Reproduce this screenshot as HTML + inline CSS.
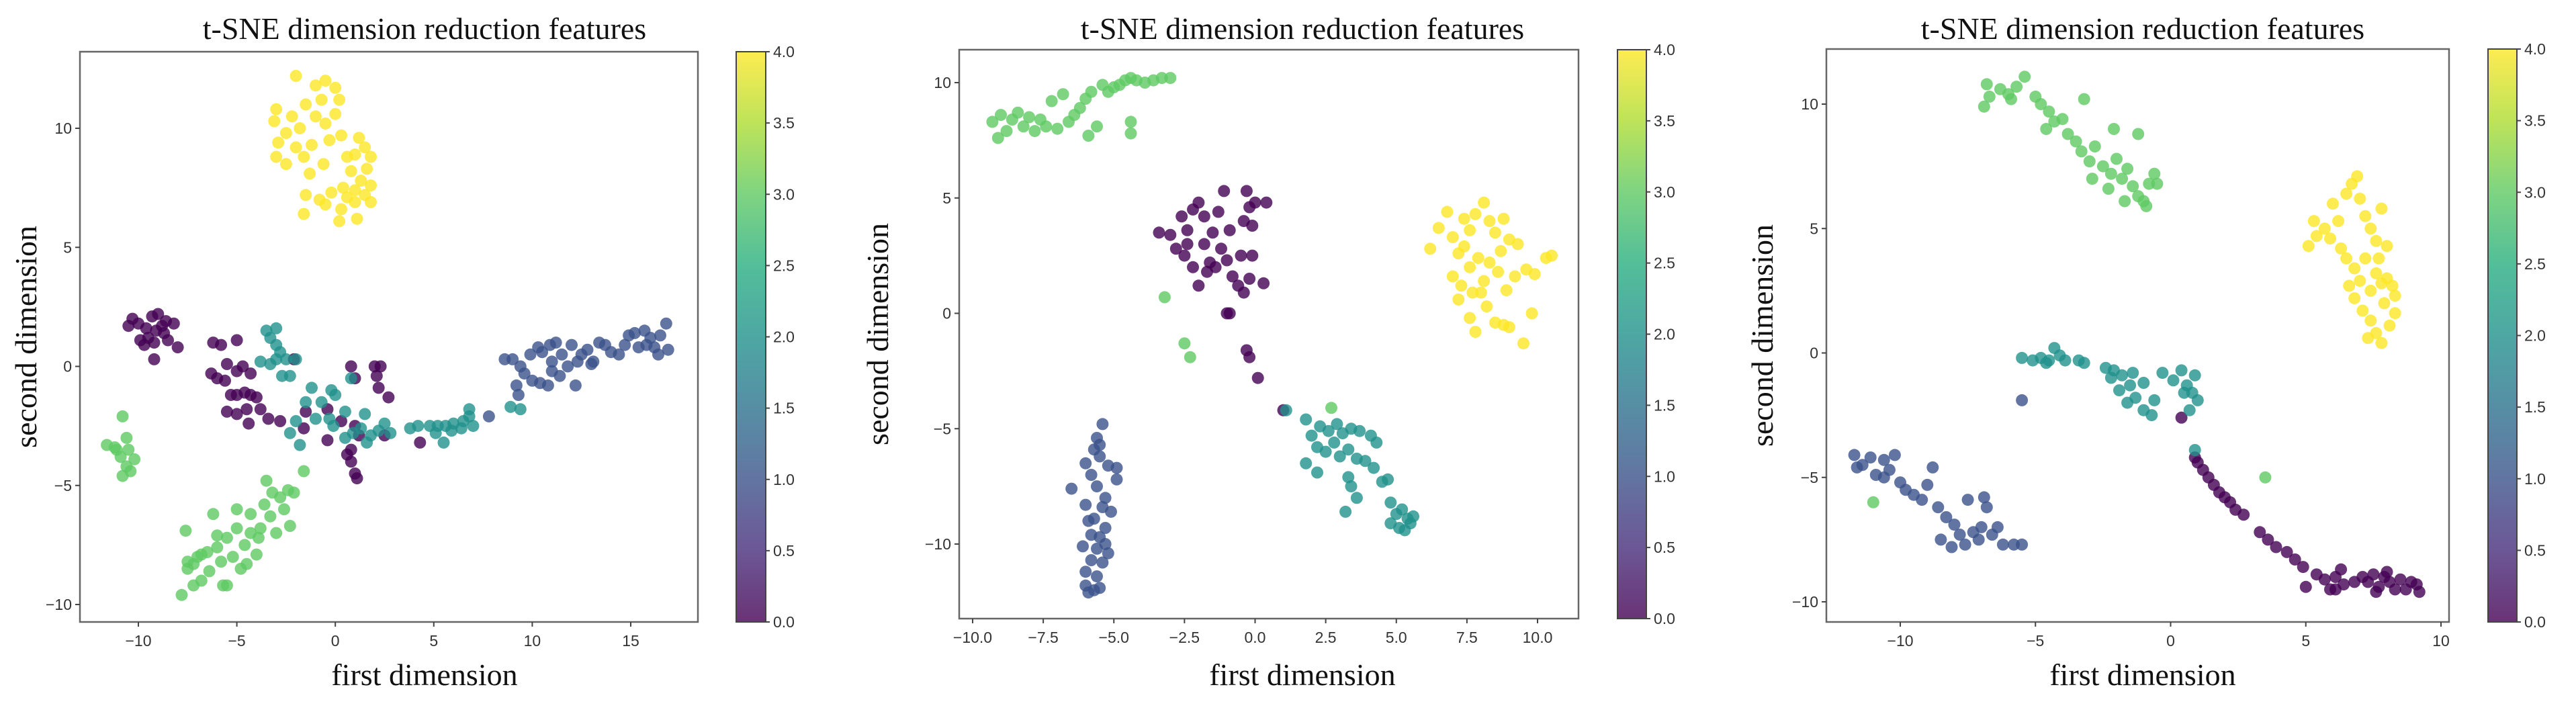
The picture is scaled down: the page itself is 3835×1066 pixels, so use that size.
<!DOCTYPE html>
<html><head><meta charset="utf-8"><style>
html,body{margin:0;padding:0;background:#fff;}
svg{display:block;}
.tick{font-family:"Liberation Sans",sans-serif;font-size:23px;fill:#333;}
.lbl{font-family:"Liberation Serif",serif;font-size:46px;fill:#111;}
</style></head><body>
<svg id="fig" width="3835" height="1066" viewBox="0 0 3835 1066" xmlns="http://www.w3.org/2000/svg">
<defs>
<linearGradient id="viridis" x1="0" y1="1" x2="0" y2="0">
<stop offset="0" stop-color="#440154"/><stop offset="0.125" stop-color="#472d7b"/><stop offset="0.25" stop-color="#3b528b"/><stop offset="0.375" stop-color="#2c728e"/><stop offset="0.5" stop-color="#21918c"/><stop offset="0.625" stop-color="#28ae80"/><stop offset="0.75" stop-color="#5ec962"/><stop offset="0.875" stop-color="#addc30"/><stop offset="1" stop-color="#fde725"/>
</linearGradient>
</defs>
</svg>
<script>
// ---- Panel 1 data ----
const p1Class0 = [[-10.3,2],[-10,1.8],[-9.6,1.6],[-9.3,2.1],[-9,2.2],[-8.6,1.9],[-8.2,1.8],[-9.1,1.5],[-8.7,1.4],[-9.5,1.2],[-9.9,1.1],[-9.2,1.0],[-8.5,1.1],[-10.5,1.7],[-9.7,0.9],[-9.2,0.3],[-8,0.8],[-8.8,1.7],
[-6.2,1],[-5.8,0.9],[-5,1.1],[-6.3,-0.3],[-6,-0.5],[-5.5,0.1],[-5,-0.2],[-4.7,0],[-4.3,-0.3],[-5.6,-0.6],[-5.3,-1.2],[-5,-1.2],[-4.6,-1.1],[-4.3,-1.2],[-4,-1.3],[-5.5,-1.9],[-5,-2],[-4.5,-1.8],[-3.8,-1.8],[-4.4,-2.4],[-3.4,-2.2],[-2.8,-2.3],[-2.1,0.3],[-1.5,-1.9],[-1.6,-2.6],[-0.4,-1.8],[-0.4,-3.1],[0.8,0],[2,0],[2.3,0],[2.1,-0.4],[2.2,-0.9],[2.7,-1.3],[0.3,-2.3],[1.0,-2.5],[1.2,-2.9],[0.8,-3.5],[0.8,-4],[1,-4.5],[1.1,-4.7],[0.6,-3.7],[1,-0.5],[4.3,-3.2],[2.5,-2.9]];
const p1Class1 = [[8.6,0.3],[9,0.3],[9.4,0],[9.6,-0.3],[9.9,0.5],[10.3,0.8],[10.5,0.6],[10.4,-0.7],[10.8,-0.8],[11,0.2],[11.2,1.0],[11.5,0.5],[11.8,0],[12,0.9],[12.2,-0.8],[12.5,0.5],[12.8,0.7],[13.1,0.2],[13.4,1],[13.7,0.9],[14,0.6],[14.4,0.5],[14.9,1.3],[15.2,1.4],[15.4,0.8],[15.7,1.5],[16,1.2],[16.2,0.8],[16.5,1.3],[16.8,1.8],[16.9,0.7],[16.4,0.5],[15.8,0.9],[9.2,-0.8],[9.3,-1.2],[10,-0.6],[11,-0.2],[13,0.1],[12.3,0.2],[10.9,0.9],[11.4,-0.4],[14.7,0.9],[7.8,-2.1]];
const p1Class2 = [[-3.5,1.5],[-3,1.6],[-3.3,1.2],[-3,0.9],[-2.8,0.6],[-3.8,0.2],[-3.3,0.1],[-3,0.3],[-2.7,-0.4],[-2.3,-0.4],[-2.5,0.3],[-2,0.3],[-1.2,-0.9],[-0.7,-1.5],[-0.2,-1],[0,-1.2],[0.5,-1.9],[-0.3,-2.2],[-1,-2.2],[-2,-2.3],[-1.5,-1.5],[-2.3,-2.8],[-1.8,-3.3],[-0.1,-2.5],[0.5,-3],[0.9,-2.8],[1.3,-2.6],[1.6,-3.2],[1.8,-2.9],[2.2,-2.7],[2.8,-2.8],[0.8,-0.5],[1.5,-2],[2.5,-2.4],[3.8,-2.6],[4.2,-2.5],[4.8,-2.5],[5.2,-2.5],[5.6,-2.5],[6,-2.4],[6.5,-2.3],[6.8,-2.1],[7,-2.5],[6.8,-1.8],[6.4,-2.6],[5.1,-2.8],[5.5,-3.2],[5.9,-2.7],[8.9,-1.7],[9.4,-1.8]];
const p1Class3 = [[-11.6,-3.3],[-11.2,-3.4],[-10.8,-2.1],[-10.6,-3.0],[-10.5,-3.5],[-10.9,-3.8],[-10.6,-4.2],[-10.8,-4.6],[-10.4,-4.4],[-10.2,-3.9],[-11.1,-3.5],
[-7.8,-9.6],[-7.6,-6.9],[-7.5,-8.5],[-7.2,-9.2],[-7.0,-8.0],[-6.8,-9.0],[-6.5,-7.8],[-6.4,-8.6],[-6.2,-6.2],[-6,-7.6],[-5.8,-8.2],[-5.7,-9.2],[-5.5,-7.2],[-5.2,-8.0],[-5,-6.8],[-5,-6],[-4.8,-8.5],[-4.6,-7.5],[-4.3,-7],[-4,-7.9],[-3.8,-6.8],[-3.6,-5.8],[-3.5,-4.8],[-3.3,-6.3],[-3,-7],[-2.8,-5.5],[-2.6,-6],[-2.4,-5.2],[-2.1,-5.3],[-2.3,-6.7],[-1.6,-4.4],[-6.8,-7.9],[-7.2,-8.3],[-4.5,-8.3],[-5.5,-9.2],[-3.9,-7.2],[-4.3,-6.2],[-6,-7.1],[-7.5,-8.2],[-3.2,-5.3]];
const p1Class4 = [[-2,12.2],[-1,11.8],[-0.5,12],[0,11.7],[0.2,11.2],[-0.7,11.2],[-1.5,11],[-2.2,10.5],[-3,10.8],[-3.1,10.3],[-2.5,9.8],[-1.8,10],[-1,10.5],[-0.5,10.2],[0,10.6],[0.3,9.7],[-0.3,9.5],[-1.2,9.3],[-2,9.2],[-2.9,9.4],[-3,8.8],[-2.5,8.5],[-1.6,8.8],[-1.3,8.1],[-0.6,8.5],[1.2,9.6],[1.5,9.2],[1.8,8.8],[1,8.9],[0.6,8.8],[1.6,8.3],[0.8,8.2],[1.3,7.8],[1.8,7.6],[1.5,7.2],[1,7.4],[0.4,7.5],[-0.2,7.3],[-1.5,7.2],[-0.5,6.8],[0.3,6.6],[1,6.9],[1.8,6.9],[-1.6,6.4],[0.2,6.1],[1.1,6.2],[-0.8,7.0],[0.6,7.1]];
// ---- Panel 2 data ----
const p2Class0 = [[-3.4,3.5],[-3.0,3.4],[-2.8,2.8],[-2.6,4.2],[-2.4,3.6],[-2.2,4.5],[-2.0,4.8],[-1.8,4.2],[-2.5,2.5],[-2.2,2.0],[-2.0,1.2],[-1.8,3.0],[-1.6,2.2],[-1.5,3.5],[-1.3,4.4],[-1.1,5.3],[-1.2,2.8],[-1.0,2.3],[-0.9,3.6],[-0.8,1.6],[-0.6,1.2],[-0.5,2.5],[-0.4,4.0],[-0.3,5.3],[-0.2,4.6],[-0.4,0.9],[-0.2,1.5],[-0.1,2.5],[0.0,4.8],[0.4,4.8],[0.3,1.3],[-0.1,3.8],[-1.7,1.8],[-2.4,3.0],[-1.4,2.0],[-1.0,0.0],[-0.9,0.0],[-0.3,-1.6],[-0.2,-1.9],[0.1,-2.8],[1.0,-4.2]];
const p2Class1 = [[-5.4,-4.8],[-5.6,-5.4],[-5.7,-5.9],[-5.5,-6.2],[-6.0,-6.5],[-5.2,-6.6],[-4.9,-6.7],[-5.8,-7.0],[-4.9,-7.2],[-6.5,-7.6],[-5.6,-7.5],[-5.3,-8.0],[-6.0,-8.3],[-5.4,-8.4],[-5.1,-8.6],[-5.7,-8.9],[-5.3,-9.3],[-5.5,-9.7],[-5.8,-9.6],[-5.6,-10.2],[-6.1,-10.1],[-5.2,-10.4],[-5.8,-10.7],[-5.4,-10.8],[-6.0,-11.2],[-5.6,-11.4],[-6.0,-11.8],[-5.7,-12.0],[-5.9,-12.1],[-5.5,-11.9],[-5.3,-10.0],[-5.9,-9.0],[-5.5,-5.7]];
const p2Class2 = [[1.8,-4.6],[2.0,-5.3],[2.3,-4.9],[2.6,-5.1],[2.9,-4.8],[3.1,-5.2],[3.4,-5.0],[3.7,-5.1],[4.1,-5.3],[4.3,-5.6],[2.2,-5.8],[2.5,-6.0],[2.8,-5.6],[3.0,-6.2],[3.3,-5.9],[3.6,-6.3],[3.9,-6.4],[4.2,-6.7],[1.8,-6.5],[2.2,-6.9],[3.3,-7.1],[3.4,-7.5],[4.5,-7.3],[4.7,-7.2],[3.6,-8.0],[3.2,-8.6],[4.8,-8.2],[5.0,-8.7],[5.2,-8.5],[5.4,-8.9],[5.1,-9.3],[5.5,-9.1],[5.3,-9.4],[5.6,-8.8],[4.8,-9.1],[1.1,-4.2]];
const p2Class3 = [[-9.3,8.3],[-9.1,7.6],[-9.0,8.6],[-8.8,7.9],[-8.6,8.4],[-8.4,8.7],[-8.2,8.1],[-8.0,8.5],[-7.8,7.9],[-7.6,8.4],[-7.4,8.1],[-7.2,9.2],[-7.0,8.0],[-6.8,9.5],[-6.6,8.3],[-6.4,8.6],[-6.2,8.9],[-6.0,9.3],[-5.8,9.6],[-5.6,8.1],[-5.4,9.9],[-5.2,9.6],[-5.0,9.8],[-4.8,9.9],[-4.6,10.1],[-4.4,10.2],[-4.2,10.1],[-3.9,10.0],[-3.6,10.1],[-3.3,10.2],[-3.0,10.2],[-4.4,8.3],[-4.4,7.8],[-5.9,7.7],[-3.2,0.7],[-2.5,-1.3],[-2.3,-1.9],[2.7,-4.1]];
const p2Class4 = [[6.2,2.8],[6.5,3.7],[6.8,4.4],[7.0,3.3],[7.2,2.6],[7.4,4.1],[7.6,3.6],[7.8,4.3],[8.1,4.8],[8.3,4.0],[8.5,3.5],[8.8,4.1],[9.0,3.2],[9.3,3.0],[7.0,1.6],[7.3,1.2],[7.6,2.0],[7.9,2.4],[8.1,1.4],[8.3,2.2],[8.6,1.8],[8.9,1.0],[9.2,1.6],[9.6,1.9],[9.9,1.7],[10.3,2.4],[10.5,2.5],[7.2,0.6],[7.6,-0.2],[7.8,-0.8],[8.2,0.3],[8.5,-0.4],[8.8,-0.5],[9.0,-0.6],[9.5,-1.3],[9.8,0.0],[8.0,0.9],[7.4,2.9],[8.7,2.7],[7.7,0.9]];
// ---- Panel 3 data ----
const p3Class0 = [[0.9,-4.2],[1.0,-4.4],[1.2,-4.7],[1.4,-5.0],[1.6,-5.3],[1.8,-5.6],[2.0,-5.8],[2.2,-6.0],[2.4,-6.3],[2.7,-6.5],[3.3,-7.2],[3.6,-7.5],[3.9,-7.8],[4.3,-8.0],[4.6,-8.3],[4.9,-8.6],[5.0,-9.4],[5.4,-8.9],[5.7,-9.1],[5.9,-9.5],[6.1,-9.0],[6.3,-8.7],[6.4,-9.3],[6.8,-9.2],[7.1,-9.0],[7.3,-9.2],[7.5,-8.9],[7.7,-9.4],[7.9,-9.0],[8.1,-9.2],[8.3,-9.5],[8.5,-9.1],[8.7,-9.5],[8.9,-9.2],[9.1,-9.3],[9.2,-9.6],[8.0,-8.8],[7.6,-9.6],[6.1,-9.5],[0.4,-2.6]];
const p3Class1 = [[-11.7,-4.1],[-11.4,-4.5],[-11.1,-4.2],[-10.9,-4.9],[-10.6,-4.3],[-10.4,-4.7],[-10.2,-4.1],[-10.0,-5.2],[-9.8,-5.5],[-9.5,-5.7],[-9.2,-5.9],[-8.8,-4.6],[-9.0,-5.3],[-8.6,-6.2],[-8.3,-6.6],[-8.0,-6.9],[-7.8,-7.3],[-8.5,-7.5],[-7.6,-7.7],[-7.3,-7.2],[-7.0,-7.0],[-6.8,-6.2],[-6.6,-7.3],[-6.4,-7.0],[-6.2,-7.7],[-5.8,-7.7],[-5.5,-7.7],[-6.9,-5.8],[-7.5,-5.9],[-8.1,-7.8],[-7.1,-7.5],[-10.6,-5.0],[-11.6,-4.6],[-5.5,-1.9]];
const p3Class2 = [[-5.5,-0.2],[-5.1,-0.3],[-4.8,-0.2],[-4.5,-0.3],[-4.3,0.2],[-4.1,-0.1],[-3.9,-0.3],[-3.4,-0.3],[-3.2,-0.4],[-4.6,-0.4],[-2.4,-0.6],[-2.1,-0.7],[-1.8,-0.9],[-1.5,-1.3],[-1.3,-1.8],[-1.6,-2.0],[-1.0,-2.3],[-0.7,-2.5],[-0.6,-1.9],[-2.2,-1.0],[-1.9,-1.5],[-1.4,-0.8],[-0.3,-0.8],[0.1,-1.1],[0.4,-0.7],[0.6,-1.3],[0.8,-1.6],[0.9,-0.9],[1.0,-1.9],[0.7,-2.3],[0.9,-3.9],[0.5,-1.6],[-1.0,-1.2]];
const p3Class3 = [[-6.8,10.8],[-6.7,10.3],[-6.3,10.6],[-6.0,10.4],[-5.7,10.7],[-5.4,11.1],[-5.9,10.2],[-6.9,9.9],[-5.0,10.3],[-4.8,10.0],[-4.5,9.7],[-4.3,9.3],[-4.6,9.0],[-4.0,9.4],[-3.8,8.8],[-3.5,8.5],[-3.3,8.1],[-3.0,7.7],[-2.8,8.3],[-2.5,7.5],[-2.2,7.2],[-2.0,7.8],[-1.8,7.0],[-1.6,7.4],[-1.4,6.7],[-1.2,6.3],[-1.0,6.1],[-0.8,6.8],[-0.6,7.2],[-2.1,9.0],[-1.2,8.8],[-3.2,10.2],[-2.9,7.0],[-2.3,6.6],[-1.7,6.1],[-0.9,5.9],[-0.5,6.8],[3.5,-5.0],[-11.0,-6.0]];
const p3Class4 = [[5.1,4.3],[5.4,4.7],[5.3,5.3],[5.7,5.0],[5.9,4.6],[6.0,6.0],[6.2,5.3],[6.3,4.2],[6.5,6.4],[6.7,6.8],[6.9,7.1],[7.0,6.2],[7.2,5.5],[7.4,5.0],[7.6,4.5],[7.8,5.8],[8.0,4.3],[6.5,3.8],[6.8,3.4],[7.0,2.9],[7.2,3.8],[7.4,2.5],[7.6,3.2],[7.8,2.8],[8.0,3.0],[8.2,2.7],[8.3,2.3],[6.8,2.2],[7.1,1.7],[7.4,1.3],[7.6,0.8],[7.8,0.4],[8.1,1.1],[8.3,1.6],[6.6,2.7],[7.3,0.6],[7.9,2.0],[7.7,3.8]];
// ---- Axis tick labels ----
const p1XTicks = [-10,-5,0,5,10,15];
const p2XTicks = [-10,-7.5,-5,-2.5,0,2.5,5,7.5,10];
const p3XTicks = [-10,-5,0,5,10];
const yTicks = [-10,-5,0,5,10];
const cbTicks = [0,0.5,1,1.5,2,2.5,3,3.5,4];
const classColors = ['#440154','#3b528b','#21918c','#5ec962','#fde725'];

const NS='http://www.w3.org/2000/svg';
const svg=document.getElementById('fig');
function mk(tag,attrs,parent){const e=document.createElementNS(NS,tag);for(const k in attrs)e.setAttribute(k,attrs[k]);(parent||svg).appendChild(e);return e;}

const panels=[
 {id:'p1',L:119,R:1039,T:77,B:926,x0:-10,x0p:206,x1:15,x1p:939,y0:-10,y0p:900,y1:10,y1p:191,cbL:1096,cbR:1140,cx:632,ylx:40,xt:p1XTicks,dec:0,cls:[p1Class0,p1Class1,p1Class2,p1Class3,p1Class4]},
 {id:'p2',L:1428,R:2350,T:74,B:921,x0:-10,x0p:1448,x1:10,x1p:2289,y0:-10,y0p:810,y1:10,y1p:123,cbL:2408,cbR:2451,cx:1939,ylx:1308,xt:p2XTicks,dec:1,cls:[p2Class0,p2Class1,p2Class2,p2Class3,p2Class4]},
 {id:'p3',L:2719,R:3646,T:73,B:926,x0:-10,x0p:2829,x1:10,x1p:3634,y0:-10,y0p:896,y1:10,y1p:155,cbL:3704,cbR:3747,cx:3190,ylx:2625,xt:p3XTicks,dec:0,cls:[p3Class0,p3Class1,p3Class2,p3Class3,p3Class4]}
];
function fmt(v,d){return (v<0?'\u2212':'')+Math.abs(v).toFixed(d);}

panels.forEach((p,pi)=>{
 const g=mk('g',{});
 
 
 const sx=v=>p.x0p+(v-p.x0)*(p.x1p-p.x0p)/(p.x1-p.x0);
 const sy=v=>p.y0p+(v-p.y0)*(p.y1p-p.y0p)/(p.y1-p.y0);
 const t=mk('text',{x:p.cx,y:58,'text-anchor':'middle',class:'lbl'},g);t.textContent='t-SNE dimension reduction features';
 
 
 const pts=mk('g',{},g);
 
 
 p.cls.forEach((arr,ci)=>{arr.forEach(d=>{
   const c=mk('circle',{cx:sx(d[0]).toFixed(1),cy:sy(d[1]).toFixed(1),r:9,fill:classColors[ci],'fill-opacity':0.8},pts);
   
   
 });});
 const fr=mk('rect',{x:p.L,y:p.T,width:p.R-p.L,height:p.B-p.T,fill:'none',stroke:'#666','stroke-width':2.5},g);
 
 
 p.xt.forEach(v=>{const x=sx(v);mk('line',{x1:x,x2:x,y1:p.B,y2:p.B+7,stroke:'#444','stroke-width':2},g);
   const tx=mk('text',{x:x,y:p.B+36,'text-anchor':'middle',class:'tick'},g);tx.textContent=fmt(v,p.dec);
   
   });
 yTicks.forEach(v=>{const y=sy(v);mk('line',{x1:p.L-7,x2:p.L,y1:y,y2:y,stroke:'#444','stroke-width':2},g);
   const ty=mk('text',{x:p.L-12,y:y+8,'text-anchor':'end',class:'tick'},g);ty.textContent=fmt(v,0);
   
   });
 const xl=mk('text',{x:p.cx,y:1020,'text-anchor':'middle',class:'lbl'},g);xl.textContent='first dimension';
 
 
 const yl=mk('text',{x:0,y:0,'text-anchor':'middle',class:'lbl',transform:`translate(${p.ylx+14},${(p.T+p.B)/2}) rotate(-90)`},g);yl.textContent='second dimension';
 
 
 const cb=mk('rect',{x:p.cbL,y:p.T,width:p.cbR-p.cbL,height:p.B-p.T,fill:'url(#viridis)','fill-opacity':0.8,stroke:'#444','stroke-width':2},g);
 
 
 cbTicks.forEach(v=>{const y=p.B-(v/4)*(p.B-p.T);mk('line',{x1:p.cbR,x2:p.cbR+6,y1:y,y2:y,stroke:'#444','stroke-width':2},g);
   const tc=mk('text',{x:p.cbR+11,y:y+8,class:'tick'},g);tc.textContent=v.toFixed(1);
   
   });
});
</script>
</body></html>
